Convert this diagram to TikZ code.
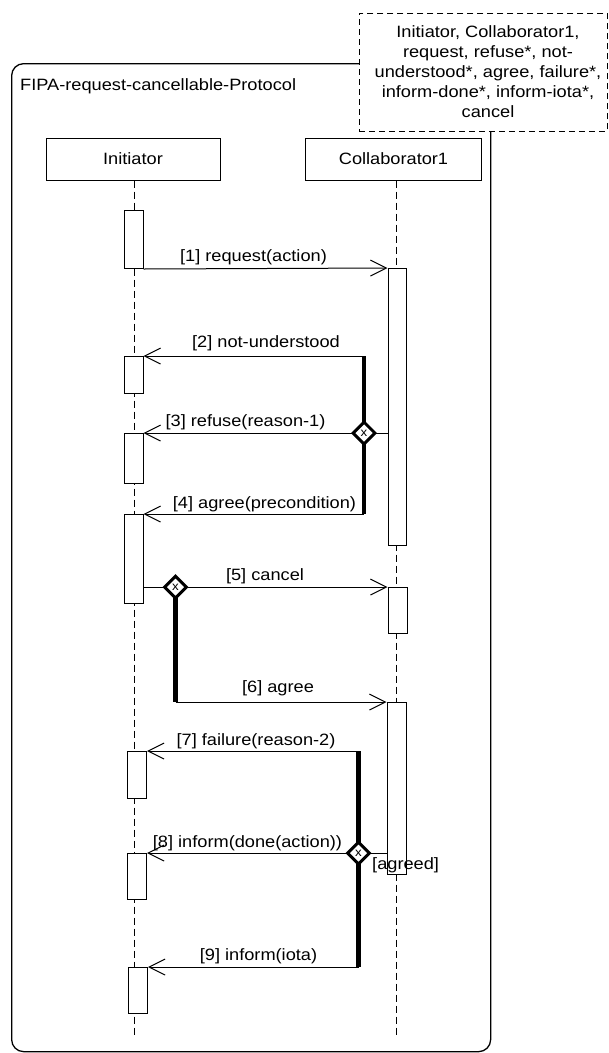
\documentclass[tikz,border=0pt]{standalone}
\usepackage{fontspec}
\setmainfont{Liberation Sans}[FakeStretch=1.11]
\usetikzlibrary{arrows.meta,shapes.geometric}

\begin{document}
\begin{tikzpicture}[x=1pt,y=-1pt,
  txt/.style={font=\fontsize{16.4}{20}\selectfont},
  lbl/.style={txt, inner sep=0pt, anchor=base},
  lifehead/.style={draw, line width=1pt, txt, minimum height=42pt, inner sep=0pt},
  lifeline/.style={line width=1pt, dash pattern=on 7pt off 4pt},
  actbar/.style={draw, fill=white, line width=1pt, minimum width=19pt, inner sep=0pt, anchor=north},
  msg/.style={line width=1pt, -{Straight Barb[length=16pt,width=16pt]}},
  plain/.style={line width=1pt},
  guard/.style={line width=4.5pt},
  xorgate/.style={diamond, draw, line width=3pt, fill=white, minimum width=23pt,
    minimum height=23pt, inner sep=0pt, font=\fontsize{12}{12}\selectfont}
]
\useasboundingbox (0,0) rectangle (609,1053);

% protocol frame and its name
\node[draw, line width=1.3pt, rounded corners=12pt, minimum width=479pt,
  minimum height=988pt, anchor=north west, inner sep=0pt] (frame) at (11,63) {};
\node[lbl, anchor=base west] (title) at (20,90) {FIPA-request-cancellable-Protocol};

% parameter box
\node[draw, line width=1.8pt, dash pattern=on 6pt off 4pt, fill=white,
  minimum width=248pt, minimum height=118pt, anchor=north west, inner sep=0pt] (params) at (358.5,12.5) {};
\node[txt, align=center, inner sep=0pt] (paramtext) at (488,72)
  {Initiator, Collaborator1,\\request, refuse*, not-\\understood*, agree, failure*,\\inform-done*, inform-iota*,\\cancel};

% lifelines
\node[lifehead, minimum width=174pt] (init) at (133,159) {Initiator};
\node[lifehead, minimum width=176pt] (collab) at (393.5,159) {Collaborator1};
\coordinate (iend) at (134,1035);
\coordinate (cend) at (396.5,1035);
\draw[lifeline] (init.south -| iend) -- (iend);
\draw[lifeline] (collab.south -| cend) -- (cend);

% activation bars, Initiator
\node[actbar, minimum height=58pt] (i1) at (133.5,210) {};
\node[actbar, minimum height=37pt] (i2) at (133.5,356) {};
\node[actbar, minimum height=50pt] (i3) at (133.5,433) {};
\node[actbar, minimum height=89pt] (i4) at (133.5,514) {};
\node[actbar, minimum height=47pt] (i5) at (137,751) {};
\node[actbar, minimum height=46pt] (i6) at (137,853) {};
\node[actbar, minimum height=46pt] (i7) at (138,967) {};

% activation bars, Collaborator1
\node[actbar, minimum height=277pt, minimum width=18pt] (c1) at (397,268) {};
\node[actbar, minimum height=46pt] (c2) at (397.5,587) {};
\node[actbar, minimum height=172pt] (c3) at (396.5,702) {};

% branch points
\coordinate (t1a) at (364,356);
\coordinate (t1b) at (364,514);
\coordinate (t2b) at (175.5,702);
\coordinate (t3a) at (358.5,751);
\coordinate (t3b) at (358.5,967);
\coordinate (d1p) at (364,433);
\coordinate (d2p) at (175.5,587);
\coordinate (d3p) at (358.5,853);

% messages
\draw[msg] (i1.south east) -- (c1.north west);
\draw[msg] (t1a) -- (i2.north east);
\draw[msg] (d1p) -- (i3.north east);
\draw[plain] (d1p) -- (d1p -| c1.west);
\draw[msg] (t1b) -- (i4.north east);
\draw[msg] (d2p -| i4.east) -- (c2.north west);
\draw[msg] (t2b) -- (c3.north west);
\draw[msg] (t3a) -- (i5.north east);
\draw[msg] (d3p) -- (i6.north east);
\draw[plain] (d3p) -- (d3p -| c3.west);
\draw[msg] (t3b) -- (i7.north east);

% parallel branch bars
\draw[guard] (t1a) -- (t1b);
\draw[guard] (d2p) -- (t2b);
\draw[guard] (t3a) -- (t3b);

% exclusive-or connectors
\node[xorgate] (d1) at (d1p) {x};
\node[xorgate] (d2) at (d2p) {x};
\node[xorgate] (d3) at (d3p) {x};

% message labels
\node[lbl] (l1) at (253.5,261.6) {[1] request(action)};
\node[lbl] (l2) at (266,347.6) {[2] not-understood};
\node[lbl] (l3) at (245.5,426.6) {[3] refuse(reason-1)};
\node[lbl] (l4) at (264.5,508.7) {[4] agree(precondition)};
\node[lbl] (l5) at (265,580) {[5] cancel};
\node[lbl] (l6) at (278,692.5) {[6] agree};
\node[lbl] (l7) at (256,745.6) {[7] failure(reason-2)};
\node[lbl] (l8) at (247.5,847.6) {[8] inform(done(action))};
\node[lbl] (l9) at (258.5,960.6) {[9] inform(iota)};
\node[lbl, anchor=base west] (guardlbl) at (372,869.7) {[agreed]};
\end{tikzpicture}
\end{document}
